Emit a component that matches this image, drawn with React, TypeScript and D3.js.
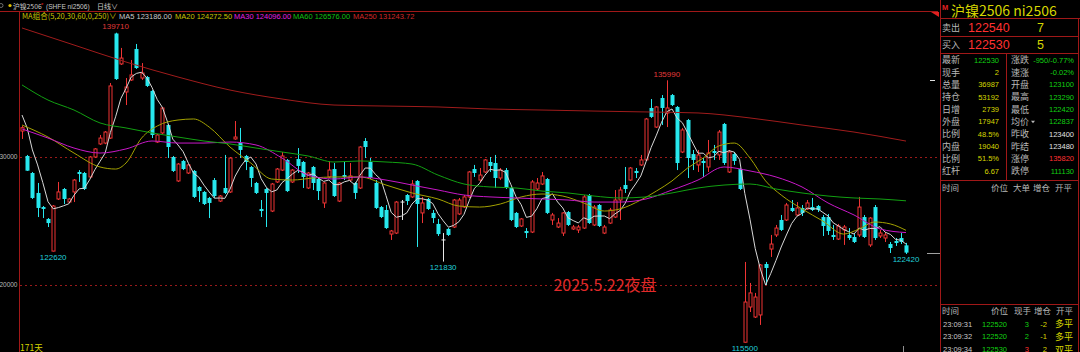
import React, { useEffect } from 'react';
import * as d3 from 'd3';

// ---------- daily bars (171 days) ----------
const opens = [
  132030,130080,128750,127190,126090,125160,122650,126720,127500,126480,
  127270,128830,128750,128440,130000,131020,131090,131480,139650,137270,
  135080,136020,138440,136170,136250,135160,131170,131880,132500,130000,
  128130,129690,128750,128910,127660,127270,126800,128200,126560,127580,
  127270,131410,131090,130080,129220,127970,125940,127500,125780,128050,
  128980,129770,128050,129840,129610,127580,129220,128280,126410,128440,
  129060,126560,128590,128200,127970,127580,131250,129610,127970,126090,
  125860,123980,124060,126480,127030,126880,128130,125630,126720,125630,
  124770,123520,124380,124530,125550,126090,126880,129060,128200,128830,
  129610,129530,128360,128980,127580,125630,124610,124220,124140,127500,
  127890,128280,125080,124530,124060,125700,124380,124300,124450,127030,
  124690,126250,124060,124840,125310,126640,127810,128200,128910,129380,
  129770,133830,132340,134610,133440,134840,133910,130390,132890,130230,
  129380,129690,129220,130470,130160,132580,128830,130230,129060,115530,
  118280,117500,117660,121640,122810,123910,125080,125080,126020,125470,
  126020,125940,126090,126170,125310,125310,123910,123590,124300,123910,
  123750,123910,125310,123130,126090,123830,123670,123200,123440,123670,
  123100,
];
const highs = [
  132420,130160,128830,127970,126170,125230,126250,128050,127580,126800,
  128280,128980,128830,130080,130700,131720,132030,135780,139710,138520,
  136170,137580,138830,137340,136330,135230,131800,133910,132580,130080,
  129530,129770,129450,128980,127730,127340,126880,128360,127030,130160,
  130000,132810,132270,130160,129300,128050,126640,127580,127970,129140,
  130390,129840,129060,130700,129690,128830,129300,128360,128050,129690,
  129530,128050,129610,129530,128050,130860,131480,129920,128200,126170,
  126250,124300,126560,126640,127110,128200,128200,126880,126800,125860,
  125160,124060,124450,126720,126800,127030,128910,129380,129140,129840,
  130000,130160,129140,129140,127660,125700,125230,124450,128200,128360,
  128830,128360,125630,125230,125700,125780,124690,124690,127030,127110,
  126250,126330,124690,126020,127420,127660,129220,129220,129140,130160,
  133050,134530,133980,134840,135990,134920,133980,132270,132970,130550,
  130550,129920,131330,130940,132110,132660,130550,130390,129140,121800,
  120160,119380,121640,121800,123910,124690,125470,126410,126640,126480,
  126250,126640,126800,126250,125470,125550,124690,124770,124690,124450,
  123980,126880,125470,125310,126250,124300,124140,123360,123670,124060,
  123290,
];
const lows = [
  131410,128910,126720,125310,125230,124530,122620,126640,126330,126440,
  126480,128050,127420,128360,129920,130940,131000,131410,136020,137190,
  134060,135940,136880,136020,135470,131480,131100,131800,129920,128830,
  128050,128980,128670,126800,126480,126250,125230,126800,126480,127110,
  127190,131350,129920,128980,127660,127110,125310,124530,125700,127970,
  128910,127270,127970,128750,127580,127500,127420,126640,126020,128360,
  126880,126480,128200,128050,126720,127500,129920,128280,125940,125230,
  124380,123520,123980,125080,126250,126800,122970,124840,125860,124840,
  123830,121830,123830,124450,125470,126020,126800,128440,128050,128750,
  128830,127580,128200,127500,125000,124450,124530,123670,124060,127420,
  127810,125550,124690,124450,123830,124610,124300,124060,124380,124770,
  124610,124530,123980,124770,125230,125080,127190,128130,128360,129300,
  129690,133050,132270,132500,132340,133980,128980,130310,128360,128980,
  128830,128440,128830,129770,129770,129380,128750,129380,127420,115500,
  117890,117420,116880,120000,122190,123750,124220,125000,125700,125390,
  125390,125860,125780,125700,123830,123910,123520,123520,123130,123520,
  123280,123750,123670,122970,123520,123670,123360,122500,123050,123200,
  122420,
];
const closes = [
  132290,128930,126800,126020,125940,124840,126170,127270,126720,126720,
  128200,128670,127500,130000,130630,131480,131950,135550,136090,137730,
  135470,136410,136950,136560,135550,131720,131720,133830,130780,128910,
  129450,129060,129380,126880,127340,126330,126410,126950,126950,127190,
  129920,131560,130550,129610,128360,127190,125780,127190,127890,129060,
  130080,127340,128980,129300,128440,128750,127970,127340,127970,128980,
  126950,127970,128440,128520,127190,130780,130780,128360,126020,125310,
  124450,124220,126480,126480,126560,127890,126330,126410,125940,125230,
  123980,123520,123910,126640,126640,126880,128830,128750,128590,129770,
  129300,128360,128980,127580,125080,124530,125160,124060,128050,127970,
  128520,125630,125470,124840,125630,124690,124530,124530,126880,124840,
  126090,124610,124530,125860,126640,127420,127500,129140,128750,129770,
  132970,133130,133910,133830,133830,134060,129530,132110,129920,129770,
  130160,129530,130310,130310,131950,129530,130390,129690,127500,118670,
  119380,119060,121560,121330,123200,124450,124300,126250,125780,126020,
  125630,126410,125860,125860,124610,124220,123750,124610,124530,123670,
  123360,126090,123750,125230,123670,124060,123910,122890,123280,123360,
  122530,
];

// ---------- moving averages ----------
const ma5Lead = [133280, 132270, 130550, 129380];
const ma20Idx = [0,5,10,15,18,20,23,26,30,33,36,40,44,48,52,56,60,65,70,75,80,84,88,92,96,100,104,108,112,115,119,122,125,128,131,134,137,140,143,146,150,154,158,161,164,167,170];
const ma20 = [132500,131560,130310,129220,129060,129530,131480,132420,132890,132970,132340,130780,129530,128280,128200,128360,128440,128440,127810,127190,126720,126170,126090,126330,126880,127110,126950,126410,125780,125940,126640,127340,128130,129140,129920,130860,131090,129920,128130,127030,125940,125000,123980,124380,124920,124770,124272];
const ma30 = [132190,131480,130700,130310,130630,131250,131090,131090,131170,130940,129920,128590,128280,128440,128200,127810,127420,127030,126880,126800,126720,126640,126480,126480,126720,127420,128200,129220,128910,128440,127660,126410,125470,124380,124096];
const ma60 = [135630,134450,133670,132660,132270,131880,131560,131250,131020,130700,130390,130080,129610,129690,129610,129450,128590,127890,127660,127580,127340,127190,126950,126800,126880,127190,127580,127810,127890,127500,127190,126950,126800,126720,126576];
const ma250Idx = [0,10,20,30,40,50,60,70,80,90,100,110,120,130,140,150,160,170];
const ma250 = [140080,138750,137420,136250,135230,134530,134060,133980,133910,133750,133670,133590,133520,133440,133050,132500,131950,131244];

const gridPrices = [120000, 130000];

const maNames = ['MA5', 'MA20', 'MA30', 'MA60', 'MA250'];
const maValues = ['123186.00', '124272.50', '124096.00', '126576.00', '131243.72'];

const markIdx = [18, 6, 81, 124, 139, 170];
const markKind = ['high', 'low', 'low', 'high', 'low', 'low'];

// ---------- quote panel ----------
const leftLabels = ['最新', '现手', '总量', '持仓', '日增', '外盘', '比例', '内盘', '比例', '红杆'];
const leftValues = ['122530', '2', '36987', '53192', '2739', '17947', '48.5%', '19040', '51.5%', '6.67'];
const rightLabels = ['涨跌', '速涨', '开盘', '最高', '最低', '均价', '昨收', '昨结', '涨停', '跌停'];
const rightValues = ['-950/-0.77%', '-0.02%', '123100', '123290', '122420', '122837', '123400', '123480', '135820', '111130'];
const tickTimes = ['23:09:31', '23:09:32', '23:09:34'];
const tickPrices = ['122520', '122520', '122530'];
const tickVols = ['3', '2', '3'];
const tickOI = ['-2', '-1', '2'];
const tickKinds = ['多平', '多平', '双平'];

const UP = '#f03434';
const DOWN = '#27e8ee';
const FRAME = '#a01818';
const GRAY = '#b8b8b8';
const YEL = '#d6d600';
const GRN = '#12d012';
const NUM = "'Liberation Sans','DejaVu Sans',sans-serif";
const CJK = "'Noto Sans CJK SC','Liberation Sans',sans-serif";

export default function App() {
  useEffect(() => {
    document.body.style.margin = '0';
    document.body.style.background = '#000';
  }, []);

  const n = closes.length;
  const x = d3.scaleLinear().domain([0, n - 1]).range([22, 906]);
  const y = d3.scaleLinear().domain([120000, 130000]).range([285, 157]);

  const ma5 = closes.map((_, i) => (i < 4 ? ma5Lead[i] : d3.mean(closes.slice(i - 4, i + 1)) as number));
  const step5 = d3.range(0, n, 5);

  const smooth = d3.line<[number, number]>().x(d => x(d[0])).y(d => y(d[1])).curve(d3.curveMonotoneX);
  const straight = d3.line<[number, number]>().x(d => x(d[0])).y(d => y(d[1]));

  const maPaths = [
    { d: straight(ma5.map((v, i) => [i, v] as [number, number])), c: '#d8d8d8' },
    { d: smooth(ma20Idx.map((k, j) => [k, ma20[j]] as [number, number])), c: '#a4a200' },
    { d: smooth(step5.map((k, j) => [k, ma30[j]] as [number, number])), c: '#c818c8' },
    { d: smooth(step5.map((k, j) => [k, ma60[j]] as [number, number])), c: '#12a012' },
    { d: smooth(ma250Idx.map((k, j) => [k, ma250[j]] as [number, number])), c: '#a01c1c' },
  ];
  const legendX = [119, 175, 234, 293, 353];
  const legendC = ['#c8c8c8', '#c8c400', '#e020e0', '#10c010', '#d02828'];

  const rowY = (k: number) => 60 + k * 12.35;
  const rightColors = [GRN, GRN, GRN, GRN, GRN, GRN, '#e0e0e0', '#e0e0e0', '#ff3030', GRN];

  return (
    <svg width={1080} height={352} style={{ position: 'absolute', left: 0, top: 0, display: 'block', background: '#000' }}>
      <rect x={0} y={0} width={1080} height={352} fill="#000" />

      {/* top header */}
      <circle cx={1} cy={5.5} r={2} fill="none" stroke="#888" strokeWidth={0.8} />
      <circle cx={10} cy={5.5} r={1.6} fill="#e0c000" />
      <text x={13} y={8.5} fontSize={6.8} fill="#c8c8c8" fontFamily={CJK}>沪镍2506</text>
      <text x={41} y={6.5} fontSize={6} fill="#e02020" fontFamily={NUM}>*</text>
      <text x={46} y={8.5} fontSize={6.6} fill="#c8c8c8" fontFamily={NUM}>(SHFE ni2506)</text>
      <text x={97} y={8.5} fontSize={7} fill="#c8c8c8" fontFamily={CJK}>日线∨</text>
      <line x1={0} x2={938} y1={11.5} y2={11.5} stroke={FRAME} />
      <polygon points="931,12 939,12 939,17" fill="#e02020" />

      <text x={22} y={18.5} fontSize={7.5} fill="#c8c400" fontFamily={CJK}>MA组合(5,20,30,60,0,250)∨</text>
      {maNames.map((m, k) => (
        <text key={m} x={legendX[k]} y={18.5} fontSize={7.5} fill={legendC[k]} fontFamily={NUM}>{`${m} ${maValues[k]}`}</text>
      ))}

      {/* left axis */}
      <line x1={19.5} x2={19.5} y1={11.5} y2={352} stroke={FRAME} />
      {gridPrices.map(p => (
        <g key={p}>
          <line x1={20} x2={940} y1={Math.round(y(p)) + 0.5} y2={Math.round(y(p)) + 0.5} stroke="#9a1a1a" strokeDasharray="2,3" />
          <text x={17.5} y={y(p)} dy="0.35em" textAnchor="end" fontSize={6.5} fill={GRAY} fontFamily={NUM}>{String(p)}</text>
        </g>
      ))}

      {/* candles */}
      {closes.map((c, i) => {
        const o = opens[i];
        const flat = c === o;
        const up = c > o;
        const col = flat ? '#e8e8e8' : up ? UP : DOWN;
        const cx = Math.round(x(i)) + 0.5;
        const top = y(Math.max(o, c));
        const bot = y(Math.min(o, c));
        return (
          <g key={i}>
            <line x1={cx} x2={cx} y1={y(highs[i])} y2={y(lows[i])} stroke={col} />
            {flat ? (
              <line x1={cx - 2} x2={cx + 2} y1={top} y2={top} stroke={col} />
            ) : up ? (
              <rect x={cx - 1.5} y={top} width={3} height={Math.max(bot - top, 1)} fill="#000" stroke={col} />
            ) : (
              <rect x={cx - 2} y={top} width={4} height={Math.max(bot - top, 1)} fill={col} />
            )}
          </g>
        );
      })}

      {/* moving averages */}
      {maPaths.map((p, k) => (
        <path key={k} d={p.d || ''} fill="none" stroke={p.c} strokeWidth={1} />
      ))}

      {/* extreme marks */}
      {markIdx.map((i, k) => {
        const hi = markKind[k] === 'high';
        const v = hi ? highs[i] : lows[i];
        return (
          <text key={k} x={x(i)} y={y(v) + (hi ? -6.5 : 5.5)} dy="0.35em" textAnchor="middle" fontSize={8}
            fill={hi ? '#e03a3a' : '#20d0d8'} fontFamily={NUM}>{String(v)}</text>
        );
      })}

      {/* annotation */}
      <text x={605} y={285} dy="0.35em" textAnchor="middle" fontSize={16} fill="#e22a2a" fontFamily={CJK}>2025.5.22夜盘</text>

      <text x={20} y={350.5} fontSize={8.5} fill={YEL} fontFamily={CJK}>171天</text>

      {/* price markers at right edge */}
      <line x1={930} x2={935} y1={80.5} y2={80.5} stroke="#e0e0e0" />
      <line x1={927} x2={940} y1={Math.round(y(122530)) + 0.5} y2={Math.round(y(122530)) + 0.5} stroke="#a0a0a0" />
      <line x1={903.5} x2={903.5} y1={346} y2={352} stroke="#909090" />

      {/* ---------- right panel ---------- */}
      <line x1={940.5} x2={940.5} y1={0} y2={352} stroke={FRAME} />
      <line x1={1078.5} x2={1078.5} y1={18.5} y2={352} stroke={FRAME} />
      <text x={942} y={9.5} fontSize={7.5} fontWeight="bold" fill="#e02020" fontFamily={NUM}>M</text>
      <text x={951} y={16} fontSize={14} fill={YEL} fontFamily={CJK}>沪镍2506 ni2506</text>
      <line x1={940} x2={1080} y1={18.5} y2={18.5} stroke={FRAME} />

      <text x={942} y={31} fontSize={9} fill={GRAY} fontFamily={CJK}>卖出</text>
      <text x={968} y={32} fontSize={12.5} fill="#ff3030" fontFamily={NUM}>122540</text>
      <text x={1037} y={32} fontSize={12.5} fill={YEL} fontFamily={NUM}>7</text>
      <line x1={940} x2={1079} y1={36.5} y2={36.5} stroke={FRAME} />
      <text x={942} y={48} fontSize={9} fill={GRAY} fontFamily={CJK}>买入</text>
      <text x={968} y={49} fontSize={12.5} fill="#ff3030" fontFamily={NUM}>122530</text>
      <text x={1037} y={49} fontSize={12.5} fill={YEL} fontFamily={NUM}>5</text>
      <line x1={940} x2={1079} y1={53.5} y2={53.5} stroke={FRAME} />

      <line x1={1006.5} x2={1006.5} y1={53.5} y2={180.5} stroke={FRAME} />
      {leftLabels.map((l, k) => (
        <g key={k}>
          <text x={942} y={rowY(k)} dy="0.35em" fontSize={9} fill={GRAY} fontFamily={CJK}>{l}</text>
          <text x={999} y={rowY(k)} dy="0.35em" textAnchor="end" fontSize={7.5} fill={k === 0 ? GRN : YEL} fontFamily={NUM}>{leftValues[k]}</text>
          <text x={1011} y={rowY(k)} dy="0.35em" fontSize={9} fill={GRAY} fontFamily={CJK}>{rightLabels[k]}</text>
          <text x={1074} y={rowY(k)} dy="0.35em" textAnchor="end" fontSize={7.5} fill={rightColors[k]} fontFamily={NUM}>{rightValues[k]}</text>
        </g>
      ))}
      <polygon points={`1031,${rowY(5) - 1} 1035,${rowY(5) - 1} 1033,${rowY(5) + 1.5}`} fill={GRAY} />
      <line x1={940} x2={1079} y1={180.5} y2={180.5} stroke={FRAME} />

      {[['时间', 942], ['价位', 991], ['大单', 1013], ['增仓', 1033], ['开平', 1055]].map(([t, px]) => (
        <text key={t as string} x={px as number} y={188} dy="0.35em" fontSize={8.5} fill={GRAY} fontFamily={CJK}>{t}</text>
      ))}

      <line x1={940} x2={1079} y1={304.5} y2={304.5} stroke={FRAME} />
      {[['时间', 942], ['价位', 991], ['现手', 1014], ['增仓', 1034], ['开平', 1056]].map(([t, px]) => (
        <text key={t as string} x={px as number} y={311} dy="0.35em" fontSize={8.5} fill={GRAY} fontFamily={CJK}>{t}</text>
      ))}
      {tickTimes.map((t, k) => {
        const ty = 324 + k * 12.8;
        return (
          <g key={k}>
            <text x={943} y={ty} dy="0.35em" fontSize={7.5} fill="#c8c8c8" fontFamily={NUM}>{t}</text>
            <text x={1007} y={ty} dy="0.35em" textAnchor="end" fontSize={7.5} fill={GRN} fontFamily={NUM}>{tickPrices[k]}</text>
            <text x={1029} y={ty} dy="0.35em" textAnchor="end" fontSize={7.5} fill={k === 2 ? '#ff3030' : GRN} fontFamily={NUM}>{tickVols[k]}</text>
            <text x={1047} y={ty} dy="0.35em" textAnchor="end" fontSize={7.5} fill={YEL} fontFamily={NUM}>{tickOI[k]}</text>
            <text x={1055} y={ty} dy="0.35em" fontSize={9} fill={YEL} fontFamily={CJK}>{tickKinds[k]}</text>
          </g>
        );
      })}
    </svg>
  );
}
